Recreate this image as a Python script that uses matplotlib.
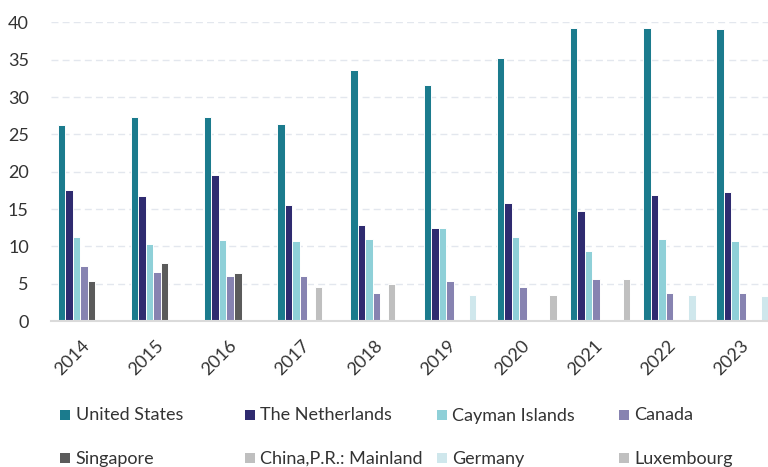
import numpy as np
import matplotlib
matplotlib.use("Agg")
import matplotlib.pyplot as plt
from matplotlib.patches import Rectangle

plt.rcParams['font.family'] = ['Lato', 'DejaVu Sans']

years = ["2014", "2015", "2016", "2017", "2018", "2019", "2020", "2021", "2022", "2023"]
nan = np.nan

series_names = ["United States", "The Netherlands", "Cayman Islands", "Canada",
                "Singapore", "China,P.R.: Mainland", "Germany", "Luxembourg"]

united_states = [26.2, 27.3, 27.4, 26.4, 33.6, 31.6, 35.2, 39.3, 39.3, 39.1]
netherlands = [17.6, 16.7, 19.6, 15.5, 12.8, 12.4, 15.8, 14.8, 16.9, 17.3]
cayman_islands = [11.2, 10.3, 10.8, 10.7, 11.0, 12.4, 11.2, 9.4, 11.0, 10.7]
canada = [7.4, 6.5, 6.0, 6.0, 3.8, 5.4, 4.6, 5.6, 3.8, 3.8]
singapore = [5.3, 7.8, 6.4, nan, nan, nan, nan, nan, nan, nan]
china_mainland = [nan, nan, nan, 4.6, 5.0, nan, nan, nan, nan, nan]
germany = [nan, nan, nan, nan, nan, 3.5, nan, nan, 3.5, 3.35]
luxembourg = [nan, nan, nan, nan, nan, nan, 3.5, 5.6, nan, nan]

series_values = [united_states, netherlands, cayman_islands, canada,
                 singapore, china_mainland, germany, luxembourg]
colors = ["#1b7b8d", "#2f2b70", "#8fd0d8", "#8783b1",
          "#5b5b5b", "#bfbfbf", "#cfe7ec", "#c0c0c0"]

W, H = 768, 467
fig = plt.figure(figsize=(W / 100, H / 100), dpi=100)
ax = fig.add_axes([51 / W, (H - 321) / H, (W - 51) / W, (321 - 22.5) / H])

x = np.arange(len(years))
n = len(series_values)
w = 0.1025
for k, (vals, col) in enumerate(zip(series_values, colors)):
    ax.bar(x + (k - (n - 1) / 2) * w, np.array(vals, dtype=float), width=w,
           color=col, edgecolor="white", linewidth=0.7, zorder=3)

ax.set_xlim(-0.5, -0.5 + (W - 51) / 73.2)
ax.set_ylim(0, 40)
ax.set_yticks(np.arange(0, 41, 5))
ax.set_xticks(x)
ax.set_xticklabels(years, rotation=45, ha="right", va="center",
                   rotation_mode="anchor")

ax.tick_params(axis="both", length=0, labelsize=13, labelcolor="#333333")
ax.tick_params(axis="y", pad=16)
ax.tick_params(axis="x", pad=16)

ax.yaxis.grid(True, linestyle=(0, (5, 3)), color="#e3e7ee", linewidth=1.0, zorder=0)
ax.set_axisbelow(True)
for side in ("top", "right", "left"):
    ax.spines[side].set_visible(False)
ax.spines["bottom"].set_color("#dadada")
ax.spines["bottom"].set_linewidth(1.5)
ax.spines["bottom"].set_zorder(4)

# legend laid out in a fixed 4-column grid
col_x = [60, 245, 437, 619]
row_y = [414.5, 458]
sq = 10
for i, (name, col) in enumerate(zip(series_names, colors)):
    cx = col_x[i % 4]
    cy = row_y[i // 4]
    fig.patches.append(Rectangle((cx / W, (H - cy - sq / 2) / H), sq / W, sq / H,
                                 transform=fig.transFigure, facecolor=col,
                                 edgecolor="none"))
    fig.text((cx + sq + 5.5) / W, (H - cy - 6) / H, name, fontsize=13,
             color="#333333", va="baseline", ha="left")

fig.savefig("out.png", dpi=100)
